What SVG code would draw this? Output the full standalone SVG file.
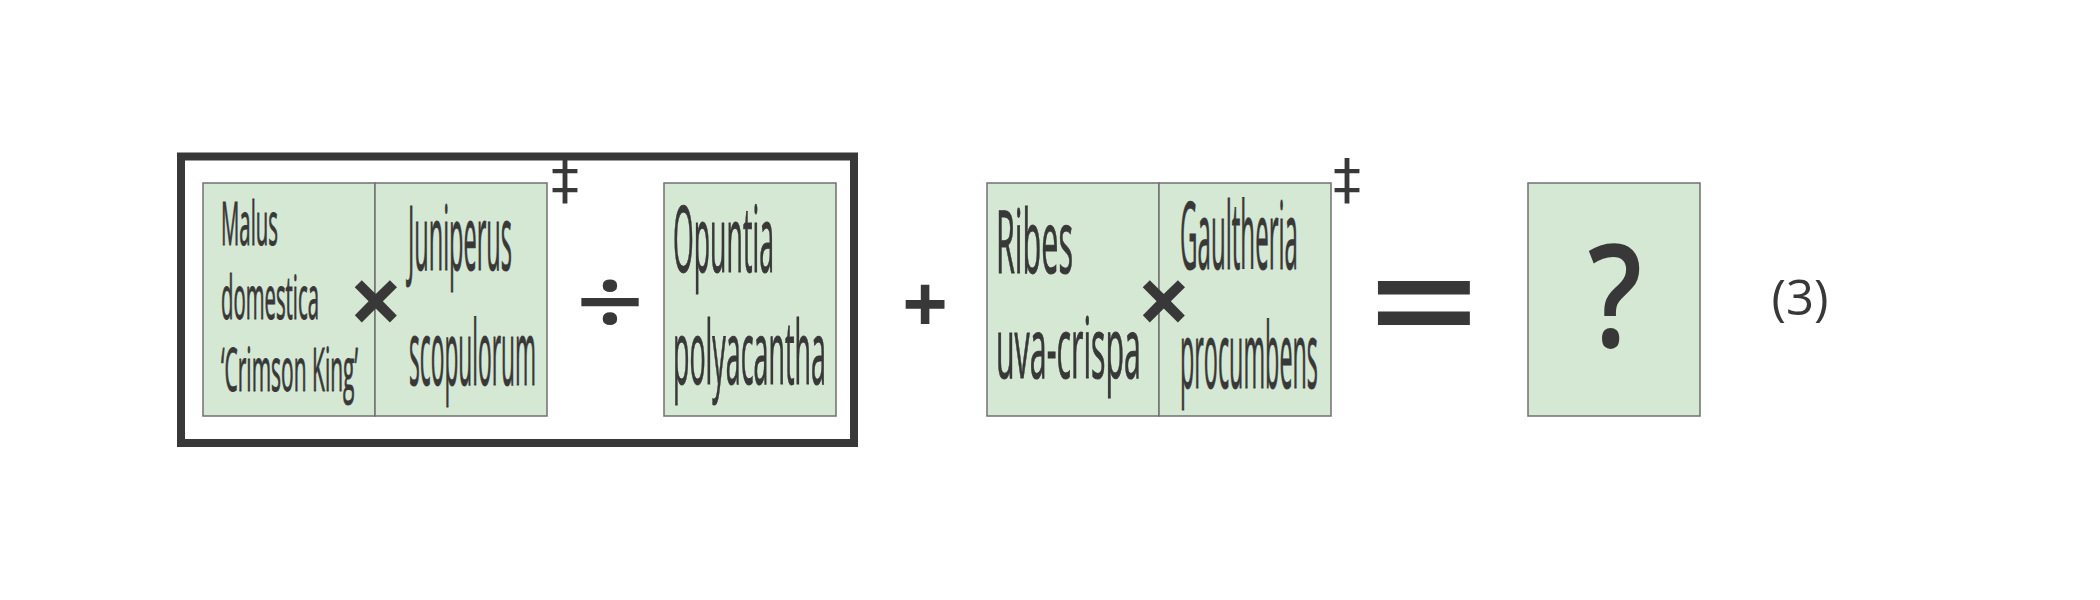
<svg xmlns="http://www.w3.org/2000/svg" width="2100" height="600" viewBox="0 0 2100 600">
<style>
.box{fill:#d5e8d4;stroke:#707070;stroke-width:1.5}
.t{font-family:"Open Sans","Noto Sans",sans-serif;fill:#383838;stroke:#383838;stroke-width:1;font-weight:400}
.op{font-family:"Open Sans","Noto Sans",sans-serif;fill:#383838;text-anchor:middle}
.dg{font-family:"DejaVu Sans","Noto Sans",sans-serif;fill:#383838;text-anchor:middle}
</style>
<rect width="2100" height="600" fill="#ffffff"/>
<g id="group-bracket">
<rect x="181" y="156.5" width="673" height="286.5" fill="none" stroke="#383838" stroke-width="8"/>
</g>
<g id="node-malus">
<rect class="box" x="203" y="183" width="172" height="233"/>
<text class="t" x="221" y="245" font-size="60" textLength="57" lengthAdjust="spacingAndGlyphs">Malus</text>
<text class="t" x="221" y="319" font-size="60" textLength="98" lengthAdjust="spacingAndGlyphs">domestica</text>
<text class="t" x="221" y="391" font-size="60" textLength="137" lengthAdjust="spacingAndGlyphs">‘Crimson King’</text>
</g>
<g id="node-juniperus">
<rect class="box" x="375" y="183" width="172" height="233"/>
<text class="t" x="408" y="270" font-size="90" textLength="104" lengthAdjust="spacingAndGlyphs">Juniperus</text>
<text class="t" x="409" y="385" font-size="90" textLength="127" lengthAdjust="spacingAndGlyphs">scopulorum</text>
</g>
<g id="node-opuntia">
<rect class="box" x="664" y="183" width="172" height="233"/>
<text class="t" x="673" y="272" font-size="92" textLength="101" lengthAdjust="spacingAndGlyphs">Opuntia</text>
<text class="t" x="673" y="384" font-size="88" textLength="153" lengthAdjust="spacingAndGlyphs">polyacantha</text>
</g>
<g id="node-ribes">
<rect class="box" x="987" y="183" width="172" height="233"/>
<text class="t" x="996" y="273" font-size="88" textLength="77" lengthAdjust="spacingAndGlyphs">Ribes</text>
<text class="t" x="996" y="378" font-size="84" textLength="145" lengthAdjust="spacingAndGlyphs">uva-crispa</text>
</g>
<g id="node-gaultheria">
<rect class="box" x="1159" y="183" width="172" height="233"/>
<text class="t" x="1180" y="269" font-size="93" textLength="118" lengthAdjust="spacingAndGlyphs">Gaultheria</text>
<text class="t" x="1180" y="388" font-size="92" textLength="138" lengthAdjust="spacingAndGlyphs">procumbens</text>
</g>
<g id="node-result">
<rect class="box" x="1528" y="183" width="172" height="233"/>
<g transform="translate(1615,347) scale(0.84,1)"><text class="op" x="0" y="0" font-size="143" font-weight="600">?</text></g>
</g>
<g id="operators">
<text class="op" x="376" y="335" font-size="95" font-weight="bold">×</text>
<text class="dg" x="565" y="198" font-size="56">‡</text>
<g transform="translate(610,302) scale(1,0.8)"><text class="op" x="0" y="42" font-size="120" font-weight="600">÷</text></g>
<text class="op" x="925" y="333" font-size="80" font-weight="bold">+</text>
<text class="op" x="1164" y="335" font-size="95" font-weight="bold">×</text>
<text class="dg" x="1347" y="198" font-size="56">‡</text>
<g transform="translate(1424,303) scale(1,0.8)"><text class="op" x="0" y="69" font-size="195" font-weight="600">=</text></g>
</g>
<g id="label-eq-number">
<text class="op" x="1800" y="315" font-size="49">(3)</text>
</g>
</svg>
